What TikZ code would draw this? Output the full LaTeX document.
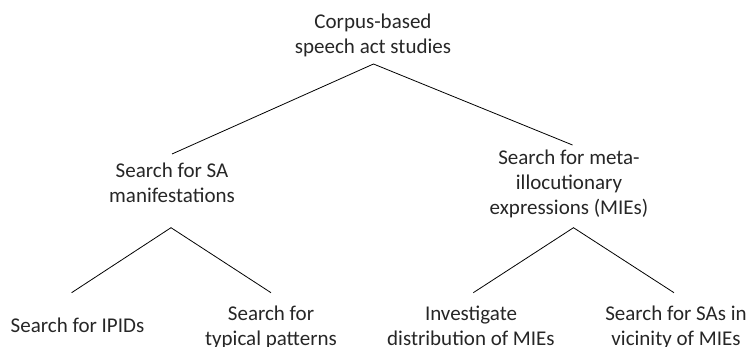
\documentclass[tikz,border=0pt]{standalone}
\usepackage{fontspec}
\setmainfont{Carlito}
\begin{document}
\begin{tikzpicture}[x=1pt,y=-1pt,
  lbl/.style={anchor=base, align=center, inner sep=0pt, text=black!85,
    font=\fontsize{21}{25}\selectfont},
  edge/.style={line width=0.8pt, black}]
\useasboundingbox (0,0) rectangle (748,347);
% labels (anchored at baseline of last line)
\node[lbl] (root) at (373,53.3) {Corpus-based\\speech act studies};
\node[lbl] (sam) at (172,203) {Search for SA\\manifestations};
\node[lbl] (mie) at (569,215) {Search for meta-\\illocutionary\\expressions (MIEs)};
\node[lbl] (ipid) at (77.5,333) {Search for IPIDs};
\node[lbl] (typ) at (271,345.5) {Search for\\typical patterns};
\node[lbl] (inv) at (471,345.5) {Investigate\\distribution of MIEs};
\node[lbl] (vic) at (676,345.5) {Search for SAs in\\vicinity of MIEs};
% connector ends
\coordinate (rootA) at (373.5,64);
\coordinate (samT) at (172,154);
\coordinate (mieT) at (572.5,145);
\coordinate (samA) at (171,227.7);
\coordinate (ipidT) at (71.6,292.7);
\coordinate (typT) at (271,292.7);
\coordinate (mieA) at (573.5,227.7);
\coordinate (invT) at (473.3,292.7);
\coordinate (vicT) at (674,292.7);
\draw[edge] (samT) -- (rootA) -- (mieT);
\draw[edge] (ipidT) -- (samA) -- (typT);
\draw[edge] (invT) -- (mieA) -- (vicT);
\end{tikzpicture}
\end{document}
